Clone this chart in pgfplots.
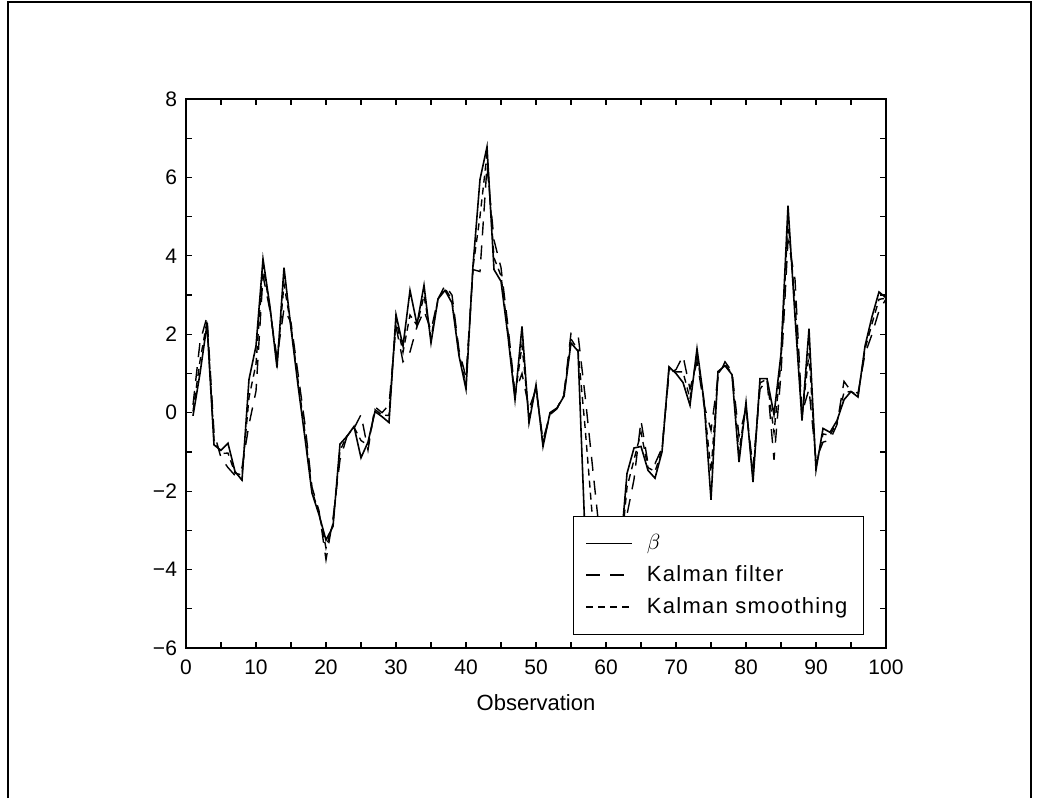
\documentclass[border=0pt]{standalone}
\usepackage{fontspec}
\setmainfont{Liberation Sans}
\newfontfamily\legfont[LetterSpace=6]{Liberation Sans}
\usepackage{pgfplots}
\usepackage{pgfplotstable}
\pgfplotsset{compat=1.18}

% obs  beta  filter  smoothing
\pgfplotstableread{
x   b      f      s
1   -0.08  0.20   0.03
2   1.00   1.80   1.32
3   2.25   2.45   2.33
4   -0.82  -0.50  -0.69
5   -0.96  -1.15  -1.04
6   -0.78  -1.40  -1.03
7   -1.50  -1.60  -1.54
8   -1.72  -1.40  -1.59
9   0.85   -0.30  0.39
10  1.70   0.55   1.24
11  3.92   3.50   3.75
12  2.70   2.60   2.66
13  1.15   1.40   1.25
14  3.70   2.65   3.28
15  2.15   2.30   2.21
16  0.70   1.00   0.82
17  -0.65  -0.30  -0.51
18  -2.05  -1.90  -1.99
19  -2.60  -2.50  -2.56
20  -3.25  -3.75  -3.45
21  -2.90  -2.70  -2.82
22  -0.80  -1.20  -0.96
23  -0.60  -0.60  -0.60
24  -0.35  -0.40  -0.37
25  -1.15  -0.05  -0.71
26  -0.75  -0.95  -0.83
27  0.03   0.15   0.08
28  -0.10  0.00   -0.06
29  -0.25  0.20   -0.07
30  2.50   2.20   2.38
31  1.70   1.30   1.54
32  3.12   1.55   2.49
33  2.25   2.20   2.23
34  3.25   2.60   2.99
35  1.78   2.10   1.91
36  2.90   2.90   2.90
37  3.12   3.25   3.17
38  2.80   3.00   2.88
39  1.45   1.60   1.51
40  0.60   0.90   0.72
41  3.75   3.65   3.71
42  5.95   3.60   5.01
43  6.78   6.30   6.59
44  3.65   4.40   3.95
45  3.35   3.70   3.49
46  1.95   2.20   2.05
47  0.33   0.50   0.40
48  2.20   1.00   1.72
49  -0.26  0.10   -0.12
50  0.71   0.60   0.67
51  -0.86  -0.70  -0.80
52  0.00   -0.05  -0.02
53  0.12   0.10   0.11
54  0.42   0.50   0.45
55  1.78   2.03   1.88
56  1.57   2.00   1.60
57  -3.10  0.45   -0.35
58  -3.80  -1.25  -2.55
59  -4.20  -2.95  -4.00
60  -4.00  -4.00  -4.10
61  -4.30  -4.20  -4.20
62  -3.65  -4.00  -3.80
63  -1.55  -2.60  -1.90
64  -0.90  -1.70  -1.20
65  -0.86  -0.20  -0.50
66  -1.47  -1.30  -1.40
67  -1.67  -1.30  -1.50
68  -1.00  -0.90  -0.96
69  1.17   1.00   1.10
70  1.00   1.10   1.04
71  0.77   1.45   1.04
72  0.19   0.60   0.35
73  1.63   1.30   1.50
74  0.30   0.20   0.26
75  -2.22  -0.45  -1.51
76  1.05   0.90   0.99
77  1.20   1.30   1.24
78  0.97   1.05   1.00
79  -1.26  -0.60  -1.00
80  0.26   0.10   0.20
81  -1.77  -1.40  -1.62
82  0.87   0.60   0.76
83  0.87   0.85   0.86
84  -0.05  -1.20  -0.51
85  1.50   1.00   1.30
86  5.28   4.40   4.93
87  2.45   3.40   2.83
88  -0.20  0.00   -0.12
89  2.14   0.60   1.52
90  -1.46  -1.20  -1.36
91  -0.40  -0.75  -0.54
92  -0.50  -0.70  -0.58
93  -0.20  -0.30  -0.24
94  0.33   0.80   0.52
95  0.54   0.55   0.54
96  0.40   0.50   0.44
97  1.70   1.50   1.62
98  2.45   2.00   2.27
99  3.08   2.60   2.89
100 2.93   2.90   2.92
}\kalman

\begin{document}
\begin{tikzpicture}
% page frame
\path[use as bounding box] (0,0) rectangle (519.5pt,399pt);
\draw[line width=1pt] (4pt,0) -- (4pt,398.2pt) -- (515.5pt,398.2pt) -- (515.5pt,0);

\begin{axis}[
  at={(93pt,75pt)}, anchor=south west,
  scale only axis, width=350pt, height=274.5pt,
  xmin=0, xmax=100, ymin=-6, ymax=8,
  xtick={0,10,...,100}, minor xtick={5,15,...,95},
  ytick={-6,-4,...,8}, minor ytick={-5,-3,...,7},
  yticklabels={−6,−4,−2,0,2,4,6,8},
  tick pos=both, tick align=inside,
  major tick length=3pt, minor tick length=3pt,
  tick style={line width=0.6pt, black},
  axis line style={line width=1.4pt},
  /pgf/number format/assume math mode=true,
  tick label style={font=\fontsize{10.5}{12}\selectfont},
  xticklabel style={yshift=-2.5pt},
  yticklabel style={xshift=-1pt},
  xlabel={Observation},
  xlabel style={font=\fontsize{11}{13}\selectfont, yshift=-3pt},
  legend style={at={(axis cs:55.3,-2.63)}, anchor=north west,
    draw=black, line width=0.5pt, fill=white,
    font=\legfont\fontsize{11}{13}\selectfont,
    inner xsep=6pt, inner ysep=7pt, row sep=2.5pt, column sep=5pt},
  legend cell align=left,
  legend image code/.code={\draw[#1, line width=0.6pt] (0pt,0pt) -- (23pt,0pt);},
]
\addplot[black, line width=0.8pt] table[x=x, y=b] {\kalman};
\addlegendentry{$\beta$}
\addplot[black, line width=0.7pt, dash pattern=on 7pt off 5pt] table[x=x, y=f] {\kalman};
\addlegendentry{Kalman filter}
\addplot[black, line width=0.7pt, dash pattern=on 3.5pt off 2.5pt] table[x=x, y=s] {\kalman};
\addlegendentry{Kalman smoothing}
\end{axis}
\end{tikzpicture}
\end{document}
